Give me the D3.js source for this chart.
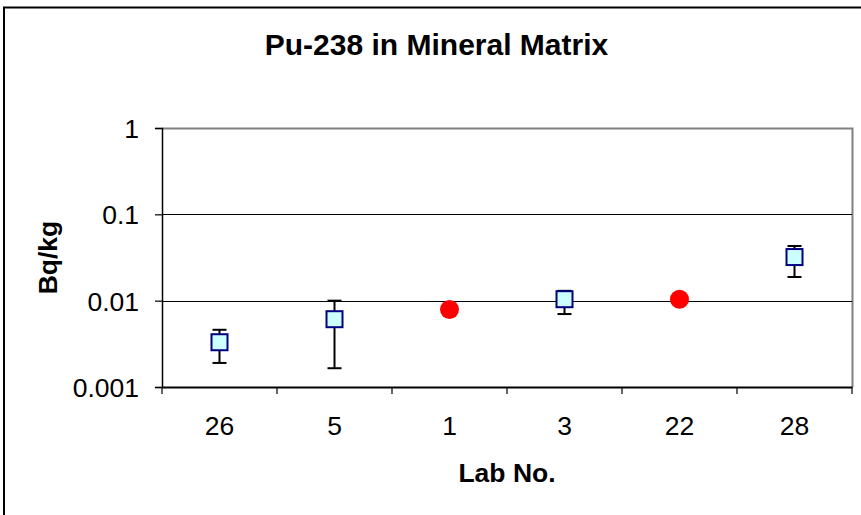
<!DOCTYPE html>
<html>
<head>
<meta charset="utf-8">
<script src="https://cdn.jsdelivr.net/npm/d3@7"></script>
<style>
  html, body { margin: 0; padding: 0; background: #fff; }
  svg { display: block; }
  text { font-family: "Liberation Sans", Arial, sans-serif; fill: #000; }
</style>
</head>
<body>
<svg id="chart" width="861" height="515"></svg>
<script>
// ---- data ----
const labs = ["26", "5", "1", "3", "22", "28"];
const values = [0.0033, 0.0061, 0.0079, 0.0104, 0.0104, 0.032];
const errLow = [0.0019, 0.00165, null, 0.0070, null, 0.0188];
const errHigh = [0.0046, 0.010, null, 0.013, null, 0.043];
const markerType = ["lab", "lab", "ref", "lab", "ref", "lab"];
const yTickValues = [0.001, 0.01, 0.1, 1];
const yTickLabels = ["0.001", "0.01", "0.1", "1"];
const titleText = "Pu-238 in Mineral Matrix";
const xTitle = "Lab No.";
const yTitle = "Bq/kg";

// ---- layout ----
const W = 861, H = 515;
const plot = { left: 162, right: 852, top: 128, bottom: 387 };

const svg = d3.select("#chart");

// outer frame
svg.append("rect")
  .attr("x", 4).attr("y", 7.5)
  .attr("width", 1000).attr("height", 1000)
  .attr("fill", "none").attr("stroke", "#000").attr("stroke-width", 2);

const x = d3.scaleBand().domain(labs).range([plot.left, plot.right]).padding(0);
const y = d3.scaleLog().domain([0.001, 1]).range([plot.bottom, plot.top]);

// plot border (top/right in gray)
svg.append("path")
  .attr("d", `M${plot.left},${plot.top + 0.5}H${plot.right + 0.5}V${plot.bottom}`)
  .attr("fill", "none").attr("stroke", "#808080").attr("stroke-width", 2);

// gridlines
svg.append("g")
  .selectAll("line")
  .data(yTickValues.filter(v => v > 0.001 && v < 1))
  .join("line")
  .attr("x1", plot.left).attr("x2", plot.right)
  .attr("y1", d => Math.round(y(d)) + 0.5).attr("y2", d => Math.round(y(d)) + 0.5)
  .attr("stroke", "#000").attr("stroke-width", 1.2);

// y axis
const yAxis = d3.axisLeft(y)
  .tickValues(yTickValues)
  .tickFormat((d, i) => yTickLabels[i])
  .tickSize(7).tickPadding(16);
const gy = svg.append("g").attr("transform", `translate(${plot.left},0)`).call(yAxis);
gy.select(".domain").attr("stroke", "#000").attr("stroke-width", 1.5);
gy.selectAll(".tick line").attr("stroke", "#000").attr("stroke-width", 1.2);
gy.selectAll(".tick text")
  .style("font-family", '"Liberation Sans", Arial, sans-serif')
  .style("font-size", "26.5px").attr("dy", "0.36em").attr("fill", "#000");

// x axis (ticks at band boundaries)
const xAxis = d3.axisBottom(x).tickSize(0).tickPadding(29);
const gx = svg.append("g").attr("transform", `translate(0,${plot.bottom})`).call(xAxis);
gx.select(".domain").attr("stroke", "#000").attr("stroke-width", 2);
gx.selectAll(".tick text")
  .style("font-family", '"Liberation Sans", Arial, sans-serif')
  .style("font-size", "26.5px").attr("fill", "#000");
const boundaries = labs.map(d => x(d)).concat([x(labs[labs.length - 1]) + x.bandwidth()]);
gx.selectAll(".bnd").data(boundaries).join("line")
  .attr("class", "bnd")
  .attr("x1", d => d).attr("x2", d => d)
  .attr("y1", 0).attr("y2", 7)
  .attr("stroke", "#000").attr("stroke-width", 1.2);

// error bars
const cx = i => x(labs[i]) + x.bandwidth() / 2;
const errIdx = labs.map((d, i) => i).filter(i => errLow[i] != null);
const eb = svg.append("g");
eb.selectAll(".stem").data(errIdx).join("line")
  .attr("x1", cx).attr("x2", cx)
  .attr("y1", i => y(errLow[i])).attr("y2", i => y(errHigh[i]))
  .attr("stroke", "#000").attr("stroke-width", 2);
eb.selectAll(".capl").data(errIdx).join("line")
  .attr("x1", i => cx(i) - 7).attr("x2", i => cx(i) + 7)
  .attr("y1", i => y(errLow[i])).attr("y2", i => y(errLow[i]))
  .attr("stroke", "#000").attr("stroke-width", 2);
eb.selectAll(".caph").data(errIdx).join("line")
  .attr("x1", i => cx(i) - 7).attr("x2", i => cx(i) + 7)
  .attr("y1", i => y(errHigh[i])).attr("y2", i => y(errHigh[i]))
  .attr("stroke", "#000").attr("stroke-width", 2);

// markers
const idx = labs.map((d, i) => i);
svg.append("g").selectAll("rect")
  .data(idx.filter(i => markerType[i] === "lab"))
  .join("rect")
  .attr("x", i => cx(i) - 8).attr("y", i => y(values[i]) - 8)
  .attr("width", 16).attr("height", 16)
  .attr("fill", "#CCFFFF").attr("stroke", "#000080").attr("stroke-width", 2);
svg.append("g").selectAll("circle")
  .data(idx.filter(i => markerType[i] === "ref"))
  .join("circle")
  .attr("cx", cx).attr("cy", i => y(values[i]))
  .attr("r", 9.5).attr("fill", "#FF0000");

// titles
svg.append("text")
  .attr("x", 436.5).attr("y", 55)
  .attr("text-anchor", "middle")
  .style("font-size", "30px").style("font-weight", "bold")
  .text(titleText);
svg.append("text")
  .attr("x", (plot.left + plot.right) / 2).attr("y", 482)
  .attr("text-anchor", "middle")
  .style("font-size", "26.5px").style("font-weight", "bold")
  .text(xTitle);
svg.append("text")
  .attr("transform", `translate(57,${(plot.top + plot.bottom) / 2}) rotate(-90)`)
  .attr("text-anchor", "middle")
  .style("font-size", "26.5px").style("font-weight", "bold")
  .text(yTitle);
</script>
</body>
</html>
